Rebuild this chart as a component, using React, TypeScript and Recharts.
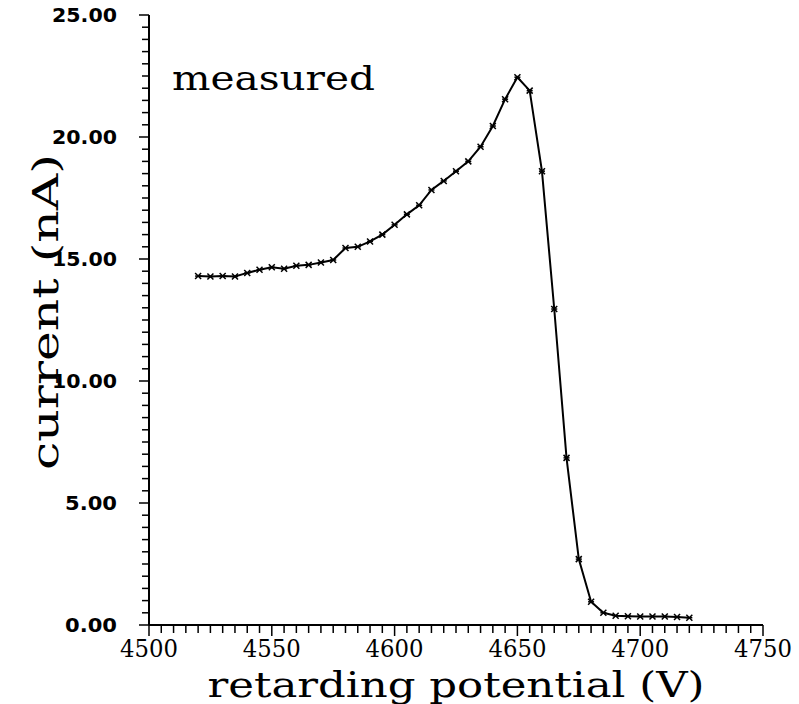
import { LineChart, Line, XAxis, YAxis, Customized } from 'recharts'

// retarding potential (V) and measured current (nA)
const potential = [
  4520, 4525, 4530, 4535, 4540, 4545, 4550, 4555, 4560, 4565,
  4570, 4575, 4580, 4585, 4590, 4595, 4600, 4605, 4610, 4615,
  4620, 4625, 4630, 4635, 4640, 4645, 4650, 4655, 4660, 4665,
  4670, 4675, 4680, 4685, 4690, 4695, 4700, 4705, 4710, 4715, 4720,
]
const current = [
  14.3, 14.28, 14.3, 14.28, 14.43, 14.56, 14.66, 14.6, 14.72, 14.76,
  14.86, 14.96, 15.45, 15.5, 15.72, 16.0, 16.4, 16.83, 17.2, 17.83,
  18.2, 18.6, 19.0, 19.6, 20.45, 21.55, 22.45, 21.9, 18.6, 12.95,
  6.85, 2.7, 0.95, 0.5, 0.38, 0.36, 0.35, 0.35, 0.35, 0.33, 0.3,
]

const xLabels = ['4500', '4550', '4600', '4650', '4700', '4750']
const yLabels = ['0.00', '5.00', '10.00', '15.00', '20.00', '25.00']

// minor tick positions (every 5 V, every 0.5 nA)
const xTicks = Array.from({ length: 51 }, (_, i) => 4500 + i * 5)
const yTicks = Array.from({ length: 51 }, (_, i) => i * 0.5)

const data = potential.map((v, i) => ({ v, i: current[i] }))

const XTick = (props: any) => {
  const { x, y, payload } = props
  const val = payload.value
  const major = val % 50 === 0
  const label = xLabels.find(l => Number(l) === val)
  return (
    <g>
      <line x1={x} x2={x} y1={y} y2={y + (major ? 11 : 8)} stroke="#000" strokeWidth={1.5} />
      {label && (
        <text x={x} y={y + 32} textAnchor="middle" fontFamily="DejaVu Serif" fontSize={24} fill="#000"
          textLength={58} lengthAdjust="spacingAndGlyphs">
          {label}
        </text>
      )}
    </g>
  )
}

const YTick = (props: any) => {
  const { x, y, payload } = props
  const val = payload.value
  const major = val % 5 === 0
  const label = yLabels.find(l => Number(l) === val)
  return (
    <g>
      <line x1={x} x2={x - (major ? 10 : 7)} y1={y} y2={y} stroke="#000" strokeWidth={1.5} />
      {label && (
        <text
          x={x - 32} y={y + 7} textAnchor="end" fontFamily="DejaVu Sans" fontWeight="bold"
          fontSize={19} fill="#000" textLength={label.length * 13} lengthAdjust="spacingAndGlyphs"
        >
          {label}
        </text>
      )}
    </g>
  )
}

const StarDot = (props: any) => {
  const { cx, cy, index } = props
  const s = 3
  return (
    <g key={index}>
      <line x1={cx - s} x2={cx + s} y1={cy - s} y2={cy + s} stroke="#000" strokeWidth={1.5} />
      <line x1={cx - s} x2={cx + s} y1={cy + s} y2={cy - s} stroke="#000" strokeWidth={1.5} />
      <line x1={cx - s} x2={cx + s} y1={cy} y2={cy} stroke="#000" strokeWidth={1.5} />
    </g>
  )
}

const Titles = () => (
  <g fontFamily="DejaVu Serif" fill="#000">
    <text x={172} y={90} fontSize={33} textLength={203} lengthAdjust="spacingAndGlyphs">measured</text>
    <text x={456} y={697} fontSize={36} textAnchor="middle" textLength={497} lengthAdjust="spacingAndGlyphs">
      retarding potential (V)
    </text>
    <text
      x={58} y={312} fontSize={35} textAnchor="middle" transform="rotate(-90, 58, 312)"
      textLength={316} lengthAdjust="spacingAndGlyphs"
    >
      current (nA)
    </text>
  </g>
)

export default function App() {
  return (
    <div style={{ position: 'absolute', left: 0, top: 0, background: '#fff' }}>
      <LineChart width={799} height={704} data={data} margin={{ top: 15, right: 36, bottom: 0, left: 0 }}>
        <XAxis
          dataKey="v" type="number" domain={[4500, 4750]} ticks={xTicks} interval={0}
          height={79} tickSize={0} tickMargin={0} tick={<XTick />}
          axisLine={{ stroke: '#000', strokeWidth: 2 }}
        />
        <XAxis xAxisId="top" orientation="top" dataKey="v" type="number" domain={[4500, 4750]}
          height={0} tick={false} tickLine={false} axisLine={{ stroke: '#000', strokeWidth: 2 }} />
        <YAxis
          type="number" domain={[0, 25]} ticks={yTicks} interval={0} width={149}
          tickSize={0} tickMargin={0} tick={<YTick />}
          axisLine={{ stroke: '#000', strokeWidth: 2 }}
        />
        <YAxis yAxisId="right" orientation="right" type="number" domain={[0, 25]}
          width={0} tick={false} tickLine={false} axisLine={{ stroke: '#000', strokeWidth: 2 }} />
        <Line
          dataKey="i" stroke="#000" strokeWidth={2} type="linear"
          dot={<StarDot />} activeDot={false} isAnimationActive={false}
        />
        <Customized component={<Titles />} />
      </LineChart>
    </div>
  )
}
